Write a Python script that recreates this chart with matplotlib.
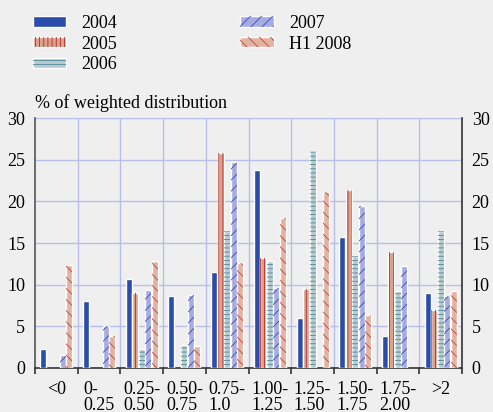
import numpy as np
import matplotlib
matplotlib.use('Agg')
import matplotlib.pyplot as plt
from matplotlib.patches import Patch
from matplotlib.legend_handler import HandlerTuple

#---------------------------------------------------------------------
# data
#---------------------------------------------------------------------
categories = ['<0', '0-\n0.25', '0.25-\n0.50', '0.50-\n0.75', '0.75-\n1.0',
              '1.00-\n1.25', '1.25-\n1.50', '1.50-\n1.75', '1.75-\n2.00', '>2']
series = ['2004', '2005', '2006', '2007', 'H1 2008']

v2004 = [2.3, 8.1, 10.7, 8.7, 11.5, 23.8, 6.0, 15.7, 3.8, 9.0]
v2005 = [0, 0, 9.0, 0, 25.8, 13.2, 9.5, 21.4, 13.9, 7.0]
v2006 = [0, 0, 2.3, 2.8, 16.4, 12.8, 26.0, 13.4, 9.3, 16.4]
v2007 = [1.6, 5.1, 9.4, 8.8, 24.7, 9.6, 0, 19.4, 12.2, 8.6]
vh2008 = [12.4, 3.9, 12.8, 2.7, 12.6, 18.0, 21.1, 6.4, 0, 9.2]
values = [v2004, v2005, v2006, v2007, vh2008]

face = ['#2b4ca8', '#dca08c', '#b6c9cf', '#a6abe2', '#e2b2a2']
hcol = ['#2b4ca8', '#b0302a', '#4f8a98', '#3a4cb8', '#c0453a']
hatches = [None, '||||', '----', '///', '\\\\\\']

bg = '#efefef'
gridc = '#b9bee9'

plt.rcParams['font.family'] = ['Liberation Serif', 'DejaVu Serif']
plt.rcParams['font.size'] = 13
plt.rcParams['hatch.linewidth'] = 0.6

fig = plt.figure(figsize=[4.93, 4.12], dpi=100, facecolor=bg)
ax = fig.add_axes([35/493, 1-368/412, 427/493, 250/412])
ax.set_facecolor(bg)

x = np.arange(len(categories))
w = 0.152
for i in range(5):
    vals = np.array(values[i], dtype=float)
    keep = vals > 0
    pos = (x - 2*w + i*w)[keep]
    ax.bar(pos, vals[keep], width=w*0.92, color=face[i], edgecolor='white', linewidth=1, zorder=3)
    if hatches[i] is not None:
        ax.bar(pos, vals[keep], width=w*0.92, fill=False, hatch=hatches[i],
               edgecolor=hcol[i], linewidth=0, zorder=4)

ax.set_xlim(-0.5, len(categories)-0.5)
ax.set_ylim(0, 30)
ax.set_yticks(np.arange(0, 31, 5))
ax.set_xticks(x)
ax.set_xticklabels(categories, linespacing=1.0)
for t in ax.get_xticklabels():
    t.set_multialignment('left')
ax.set_xticks(np.arange(-0.5, len(categories)), minor=True)

for s in np.arange(5, 31, 5):
    ax.axhline(s, color=gridc, lw=1, zorder=1)
for b in np.arange(0.5, len(categories)-0.5):
    ax.axvline(b, color=gridc, lw=1, zorder=1)

ax.spines['top'].set_visible(False)
for sp in ['left', 'right', 'bottom']:
    ax.spines[sp].set_color('#333333')
    ax.spines[sp].set_linewidth(1.2)
ax.spines['left'].set_color('#555555')

ax.tick_params(axis='y', length=0, pad=7, labelright=True, right=False)
ax.tick_params(axis='x', which='major', length=0, pad=9)
ax.tick_params(axis='x', which='minor', length=4, direction='out', color='#333333', width=1.2)

fig.text(35/493, 1-103/412, '% of weighted distribution', ha='left', va='center', fontsize=13)

handles = []
for i in range(5):
    p1 = Patch(facecolor=face[i], edgecolor='white', linewidth=1)
    if hatches[i] is not None:
        p2 = Patch(fill=False, hatch=hatches[i], edgecolor=hcol[i], linewidth=0)
        handles.append((p1, p2))
    else:
        handles.append(p1)
leg = fig.legend(handles, series, ncol=2, loc='upper left', frameon=False,
                 bbox_to_anchor=(33/493, 1-15/412), borderpad=0, borderaxespad=0,
                 handlelength=1.85, handleheight=0.5, handletextpad=0.85,
                 labelspacing=0.2, columnspacing=6.8,
                 handler_map={tuple: HandlerTuple(ndivide=1, pad=0)})

fig.savefig('out.png', dpi=100, facecolor=bg)
